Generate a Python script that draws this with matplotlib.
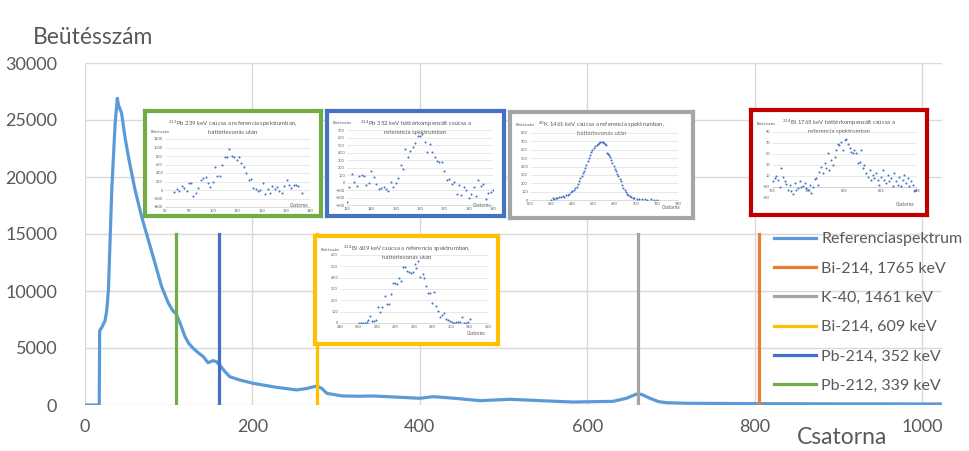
import matplotlib
matplotlib.use('Agg')
from matplotlib import pyplot as plt

plt.rcParams['font.family'] = ['Lato', 'DejaVu Sans']

# Referenciaspektrum (csatorna, beütésszám)
spec_ch = [0, 17, 17.5, 20, 24, 26, 28, 32, 36, 38.6, 40, 43.7, 47.8, 51.8, 59.7, 67.7, 75.6, 83.6, 91.5,
           99.5, 105.5, 108, 113, 119.5, 124, 129.4, 135, 141.4, 147, 153, 157, 161, 167, 173, 185, 201,
           229, 253, 265, 277, 283, 289, 308, 328, 345, 400, 416, 440, 472, 508, 544, 583, 631, 647, 659,
           665, 675, 685, 695, 720, 800, 900, 1022]
spec_val = [0, 0, 6500, 6800, 7400, 8300, 10100, 18900, 24700, 26900, 26300, 25600, 23500, 21800, 18900,
            16500, 14500, 12450, 10400, 8950, 8200, 8100, 7300, 6000, 5400, 4970, 4600, 4240, 3710, 3890,
            3800, 3500, 2950, 2480, 2190, 1900, 1550, 1320, 1450, 1670, 1450, 1020, 790, 770, 790, 590, 730,
            600, 380, 500, 380, 260, 320, 590, 960, 930, 590, 300, 200, 150, 120, 100, 90]

# Csúcsok jelölése
peak_names = ['Bi-214, 1765 keV', 'K-40, 1461 keV', 'Bi-214, 609 keV', 'Pb-214, 352 keV', 'Pb-212, 339 keV']
peak_ch = [805, 661, 277, 160, 109]
peak_top = [15000, 15000, 15000, 15000, 15000]
peak_colors = ['#ED7D31', '#A5A5A5', '#FFC000', '#4472C4', '#70AD47']

# Kis ábrák adatai
pb212_ch = [83.9, 84.8, 85.9, 86.9, 87.9, 89, 89.9, 90.8, 91.7, 92.7, 93.8, 94.8, 95.9, 96.8, 97.8, 98.8,
            99.7, 100.8, 101.7, 102.8, 103.7, 104.7, 105.7, 106.6, 107.7, 108.7, 109.7, 110.6, 111.6, 112.7,
            113.7, 114.6, 115.6, 116.6, 117.5, 118.5, 119.4, 120.4, 121.4, 122.5, 123.4, 124.4, 125.4, 126.3,
            127.3, 128.3, 129.2, 130.3, 131.3, 132.3, 133.2, 134.2, 135.2, 136.6]
pb212_val = [-47, 31, -16, 86, 47, -31, 165, 165, -149, -70, 47, 243, 282, 298, 165, 63, 188, 541, 322, 337,
             580, 784, 768, 964, 808, 768, 713, 768, 635, 533, 400, 243, 259, 47, 24, -31, 8, 165, -94, 24,
             -70, 86, 24, 71, -16, -70, 86, 243, 110, 47, 125, 125, 86, -70]

pb214_ch = list(range(130, 191))
pb214_val = [-265, -63, 117, 4, -45, 81, 103, 90, -31, -13, 148, 72, -22, -85, -76, -63, -90, -108, 4, -54,
             -9, 58, 229, 175, 444, 336, 426, 471, 525, 623, 623, 641, 538, 404, 507, 404, 336, 283, 269, 269,
             157, 27, 49, -22, 4, -148, -31, -166, -63, -99, -211, -157, -63, -175, 36, -40, -22, -220, -135,
             -121, -94]

k40_ch = [620, 621.5, 623, 624.6, 626, 627.8, 629, 631, 632.5, 634, 635.5, 637, 638.5, 640, 641.5, 643, 644,
          645, 646.3, 647.6, 649, 650, 651, 652, 653.3, 654.6, 655.7, 656.8, 658, 659, 660.3, 661.5, 663, 664,
          665.3, 666.6, 667.7, 668.8, 670, 671, 672, 673, 674, 675, 676, 677, 678, 679, 680, 681, 682.3, 683.6,
          685, 686, 687, 688, 689.4, 690.8, 692, 693, 694.3, 695.6, 697, 698.7, 701, 703.5, 706, 708.5, 711,
          714, 717, 720]
k40_val = [0, 20, 12, 28, 22, 36, 30, 48, 40, 59, 55, 75, 90, 107, 125, 147, 160, 194, 225, 257, 290, 325,
           350, 384, 420, 463, 500, 542, 575, 602, 625, 642, 660, 673, 680, 689, 695, 689, 680, 669, 655, 562,
           548, 542, 510, 483, 440, 404, 370, 345, 315, 285, 250, 226, 180, 147, 120, 99, 75, 59, 45, 36, 28,
           20, 14, 8, 10, 6, 4, 6, 3, 0]

bi214a_ch = [250, 251.2, 252.3, 253.4, 254.4, 255.3, 256.2, 257.1, 258.2, 259.3, 260.4, 261.5, 262.6, 264.4,
             265.5, 266.6, 267.6, 268.7, 269.8, 270.9, 272, 273, 274.1, 275.2, 276.3, 277.4, 278.4, 279.5,
             280.6, 281.3, 282.4, 283.5, 284.6, 285.3, 286.4, 287.5, 288.6, 289.6, 290.7, 291.8, 292.9, 294,
             295.1, 296.1, 297.2, 298.3, 299.4, 300.5, 301.6, 302.6, 303.7, 304.8, 305.9, 307, 308, 309.1, 310.2]
bi214a_val = [0, 0, 0, 0, 9, 29, 58, 15, 20, 29, 137, 97, 137, 240, 167, 167, 254, 357, 351, 342, 400, 371,
              497, 497, 459, 453, 439, 453, 518, 488, 550, 410, 430, 395, 330, 263, 263, 175, 272, 146, 102,
              53, 73, 88, 35, 29, 20, 9, 0, 9, 6, 9, 50, 0, 0, 9, 38]

bi214b_ch = [764, 765.5, 766.5, 767.4, 768.3, 769.2, 770.1, 771, 772, 772.9, 773.8, 774.7, 775.6, 776.6, 777.5,
             778.4, 779.3, 780.2, 781.1, 782.1, 783, 783.9, 784.8, 785.7, 786.7, 787.6, 788.5, 789.4, 790.3,
             791.2, 792.2, 793.1, 794, 794.9, 795.8, 796.7, 797.7, 798.6, 799.5, 800.4, 801.3, 802.2, 803.2,
             804.1, 805, 805.9, 806.8, 807.8, 808.7, 809.6, 810.5, 811.4, 812.3, 813.3, 814.2, 815.1, 816,
             816.9, 817.8, 818.8, 819.7, 820.6, 821.5, 822.4, 823.3, 824.3, 825.2, 826.1, 827, 827.9, 828.9,
             829.8, 830.7, 831.6, 832.5, 833.4, 834.4, 835.3, 836.2, 837.1, 838, 838.9, 839.9, 840.8, 841.7,
             842.6, 843.5, 844.4]
bi214b_val = [28, 0, 6, 10, 3, -10, 24, 9, 0, -4, -15, -6, -18, -22, -3, -15, -12, 0, -10, -8, -2, -12, -15,
              -6, -21, -10, 4, 6, -6, 18, 27, 15, 33, 24, 51, 21, 39, 30, 45, 57, 69, 66, 72, 57, 75, 78, 69,
              60, 54, 51, 57, 51, 33, 36, 57, 24, 30, 15, 9, 21, 3, 12, 6, 15, 3, -6, 9, 21, 3, -3, 12, 0, 6,
              -9, 15, 0, -6, 9, -9, 3, 12, -3, 6, -9, 0, -6, -18, -15]

W, H = 969, 451
GRAY = '#595959'
GRID = '#D9D9D9'


def px(x0, y0, x1, y1):
    return [x0 / W, 1 - y1 / H, (x1 - x0) / W, (y1 - y0) / H]


def inset(fig, frame, plot, ylab_y, color, title, xs, ys, xlim, xticks, ylim, yticks, xaxis_at=None):
    # Keret
    box = fig.add_axes(px(*frame))
    box.set_xticks([])
    box.set_yticks([])
    for s in box.spines.values():
        s.set_color(color)
        s.set_linewidth(3)
    box.set_facecolor('white')
    box.text(0.5, 0.93, title, transform=box.transAxes, ha='center', va='top', fontsize=4.3,
             color=GRAY, linespacing=1.3)
    fig.text((frame[0] + 6) / W, 1 - ylab_y / H, 'Beütésszám', ha='left', va='center', fontsize=2.6,
             color=GRAY)
    box.text(0.93, 0.1, 'Csatorna', transform=box.transAxes, ha='right', va='center', fontsize=3.3,
             color=GRAY)

    # Pontdiagram
    ax = fig.add_axes(px(*plot))
    ax.scatter(xs, ys, s=2.2, color='#4472C4', linewidths=0, zorder=3)
    ax.set_xlim(*xlim)
    ax.set_ylim(*ylim)
    ax.set_xticks(xticks)
    ax.set_yticks(yticks)
    ax.grid(axis='y', color=GRID, linewidth=0.4)
    ax.tick_params(length=0, labelsize=2.8, labelcolor=GRAY, pad=1.5)
    for s in ['top', 'right', 'left']:
        ax.spines[s].set_visible(False)
    ax.spines['bottom'].set_color('#BFBFBF')
    ax.spines['bottom'].set_linewidth(0.4)
    if xaxis_at is not None:
        ax.spines['bottom'].set_position(('data', xaxis_at))
    ax.set_facecolor('none')


fig = plt.figure(figsize=(W / 100, H / 100), dpi=100)
ax = fig.add_axes(px(85, 63, 942, 405))

line, = ax.plot(spec_ch, spec_val, color='#5B9BD5', linewidth=2.3, label='Referenciaspektrum', zorder=3)
for name, ch, top, col in zip(peak_names, peak_ch, peak_top, peak_colors):
    ax.plot([ch, ch], [0, top], color=col, linewidth=2.3, label=name, zorder=4)

ax.set_xlim(0, 1024)
ax.set_ylim(0, 30000)
ax.set_xticks(range(0, 1001, 200))
ax.set_yticks(range(0, 30001, 5000))
ax.grid(color=GRID, linewidth=1)
ax.set_axisbelow(True)
for s in ax.spines.values():
    s.set_visible(False)
ax.tick_params(length=0, labelsize=13, labelcolor=GRAY)
ax.tick_params(axis='x', pad=10)
ax.tick_params(axis='y', pad=20)

fig.text(33 / W, 1 - 37 / H, 'Beütésszám', fontsize=16.5, color=GRAY, ha='left', va='center')
fig.text(797 / W, 1 - 437 / H, 'Csatorna', fontsize=16.5, color=GRAY, ha='left', va='center')

ax.legend(loc='upper left', bbox_to_anchor=(774 / W, 1 - 232 / H), bbox_transform=fig.transFigure,
          frameon=False, fontsize=11.5, labelcolor=GRAY, handlelength=2.65, handletextpad=0.3,
          labelspacing=0.95, borderaxespad=0, borderpad=0)

inset(fig, (145, 111, 321, 216), (165, 139, 310, 207), 132, '#70AD47',
      '$^{212}$Pb 239 keV csúcsa a referencia spektrumban,\nháttérlevonás után',
      pb212_ch, pb212_val, (80, 140), range(80, 141, 10), (-400, 1200), range(-400, 1201, 200))
inset(fig, (327, 111, 504, 216), (347, 130, 493, 205), 123, '#4472C4',
      '$^{214}$Pb 352 keV háttérkompenzált csúcsa a\nreferencia spektrumban',
      pb214_ch, pb214_val, (130, 190), range(130, 191, 10), (-300, 700), range(-300, 701, 100))
inset(fig, (510, 112, 693, 218), (530, 133, 678, 200), 125, '#A5A5A5',
      '$^{40}$K 1461 keV csúcsa a referencia spektrumban,\nháttérlevonás után',
      k40_ch, k40_val, (600, 740), range(600, 741, 20), (0, 800), range(0, 801, 100))
inset(fig, (751, 110, 927, 215), (772, 132, 917, 198), 124, '#C00000',
      '$^{214}$Bi 1765 keV háttérkompenzált csúcsa a\nreferencia spektrumban',
      bi214b_ch, bi214b_val, (765, 845), range(765, 846, 20), (-30, 90), range(-30, 91, 20), xaxis_at=-10)
inset(fig, (315, 236, 498, 344), (340, 255, 488, 323), 250, '#FFC000',
      '$^{214}$Bi 609 keV csúcsa a referencia spektrumban,\nháttérlevonás után',
      bi214a_ch, bi214a_val, (240, 320), range(240, 321, 10), (0, 600), range(0, 601, 100))

fig.savefig('out.png', dpi=100)
